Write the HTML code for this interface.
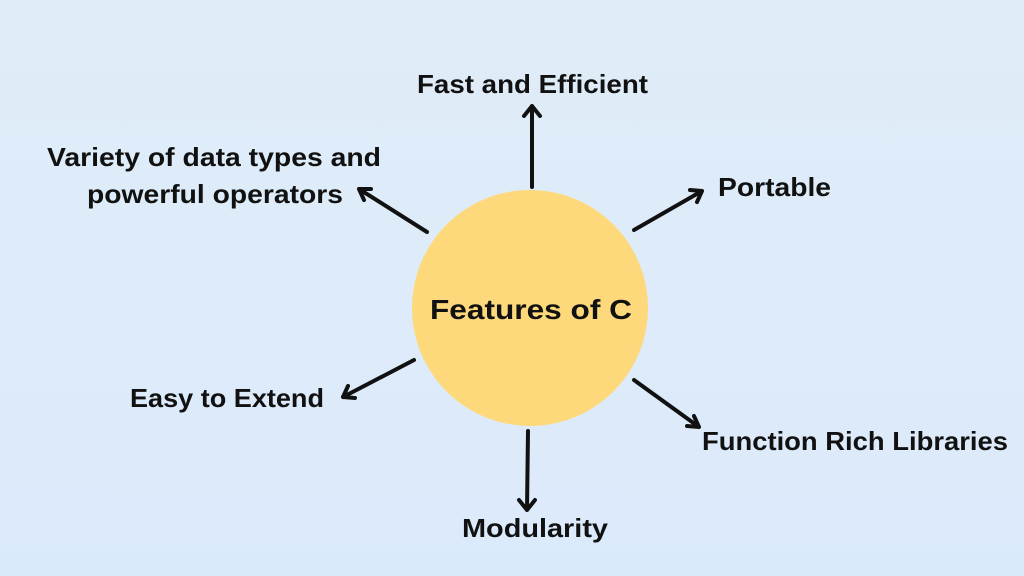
<!DOCTYPE html>
<html><head><style>
html,body{margin:0;padding:0;}
body{width:1024px;height:576px;background:linear-gradient(#e0ecf8,#dbeafb);overflow:hidden;position:relative;font-family:"Liberation Sans",sans-serif;}
svg{position:absolute;left:0;top:0;}
</style></head><body>
<svg width="1024" height="576" viewBox="0 0 1024 576">
<circle cx="530" cy="308" r="118" fill="#fed97c"/>
<g stroke="#111" stroke-width="4" fill="none" stroke-linecap="round" stroke-linejoin="round">
<path d="M532 187 L532 106 M524 116 L532 106 L540 116"/>
<path d="M634 230 L702 191 M690 190 L702 191 L697 202"/>
<path d="M427 232 L359 189 M364 200 L359 189 L371 189"/>
<path d="M414 360 L343 397 M348 386 L343 397 L355 398"/>
<path d="M634 380 L699 427 M694 416 L699 427 L687 426"/>
<path d="M528 431 L527 510 M519 500 L527 510 L535 500"/>
</g>
<g font-family="Liberation Sans, sans-serif" font-weight="bold" fill="#111" font-size="26" lengthAdjust="spacingAndGlyphs">
<text x="417" y="93" textLength="231" lengthAdjust="spacingAndGlyphs">Fast and Efficient</text>
<text x="47" y="166" textLength="334" lengthAdjust="spacingAndGlyphs">Variety of data types and</text>
<text x="87" y="203" textLength="256" lengthAdjust="spacingAndGlyphs">powerful operators</text>
<text x="718" y="196" textLength="113" lengthAdjust="spacingAndGlyphs">Portable</text>
<text x="430" y="319" font-size="28" textLength="202" lengthAdjust="spacingAndGlyphs">Features of C</text>
<text x="130" y="407" textLength="194" lengthAdjust="spacingAndGlyphs">Easy to Extend</text>
<text x="702" y="450" textLength="306" lengthAdjust="spacingAndGlyphs">Function Rich Libraries</text>
<text x="462" y="537" textLength="146" lengthAdjust="spacingAndGlyphs">Modularity</text>
</g>
</svg>
</body></html>
